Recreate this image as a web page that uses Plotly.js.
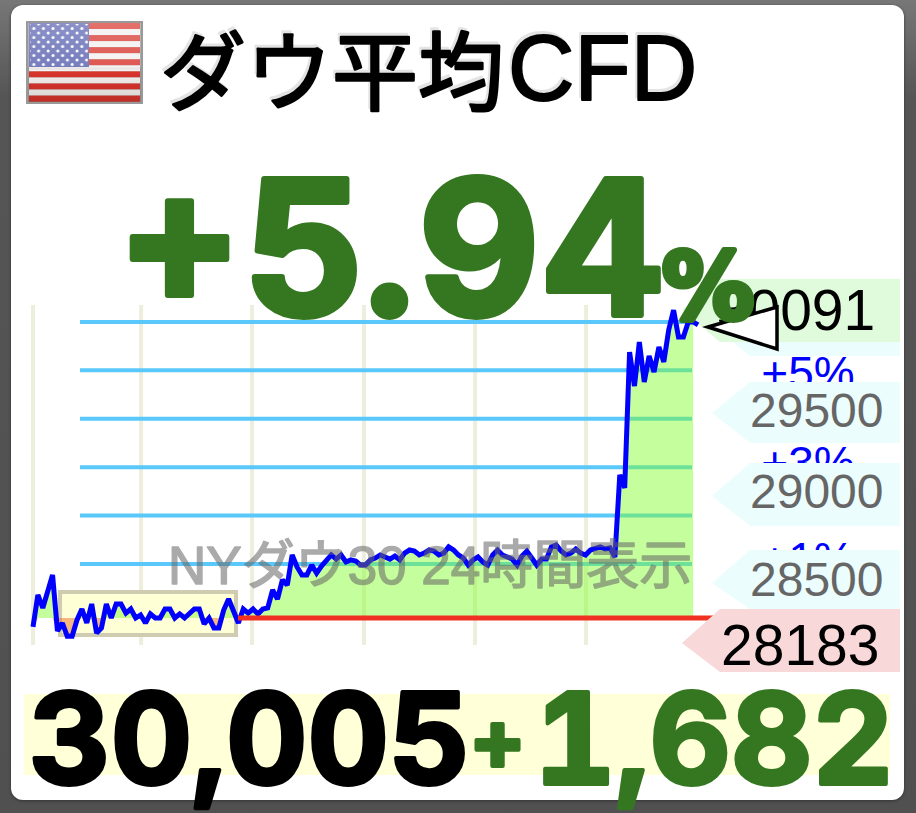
<!DOCTYPE html>
<html><head><meta charset="utf-8">
<script src="https://cdn.plot.ly/plotly-3.0.1.min.js"></script>
<style>
html,body{margin:0;padding:0;width:916px;height:813px;overflow:hidden;background:#555;}
#bg{position:absolute;left:0;top:0;width:916px;height:813px;background:linear-gradient(#777,#555 12%,#505050);}
#card{position:absolute;left:11px;top:5px;width:893px;height:795px;background:#fff;border-radius:12px;box-shadow:0 1px 3px #333;}
#flag{position:absolute;left:26px;top:21px;}
#chart{position:absolute;left:0;top:0;}
</style></head><body>
<div id="bg"></div><div id="card"></div>
<svg id="flag" width="117" height="83" viewBox="0 0 117 83">
<defs>
<linearGradient id="gl" x1="0" y1="0" x2="0" y2="1"><stop offset="0" stop-color="#fff" stop-opacity=".3"/><stop offset=".55" stop-color="#fff" stop-opacity=".18"/><stop offset=".6" stop-color="#000" stop-opacity="0"/><stop offset="1" stop-color="#000" stop-opacity=".12"/></linearGradient>
<pattern id="st" width="9.6" height="9" patternUnits="userSpaceOnUse"><circle cx="3" cy="3" r="1.5" fill="#fff"/><circle cx="7.8" cy="7.5" r="1.5" fill="#fff"/></pattern>
</defs>
<rect width="117" height="83" fill="#999"/>
<g id="stripes"></g>
<rect x="3" y="2" width="60" height="44" fill="#5a62b0"/>
<rect x="4" y="3" width="58" height="42" fill="url(#st)"/>
<rect x="2" y="2" width="113" height="79" fill="url(#gl)"/>
</svg>
<div id="chart"></div>
<script>
var values = [28238,28425,28349,28442,28542,28214,28261,28183,28183,28279,28343,28261,28372,28202,28232,28372,28290,28372,28372,28319,28343,28290,28308,28261,28314,28290,28290,28343,28343,28290,28314,28290,28319,28343,28343,28255,28290,28232,28232,28337,28401,28325,28261,28343,28319,28343,28314,28343,28349,28454,28401,28513,28483,28659,28589,28542,28542,28600,28553,28594,28630,28659,28635,28659,28618,28630,28624,28600,28600,28630,28641,28659,28647,28635,28653,28630,28670,28688,28682,28659,28670,28688,28682,28659,28670,28706,28688,28659,28641,28600,28630,28647,28618,28600,28659,28688,28659,28647,28635,28600,28653,28682,28635,28600,28635,28635,28706,28717,28682,28659,28670,28694,28670,28659,28688,28700,28706,28694,28700,28647,29127,29051,29846,29647,29905,29671,29823,29729,29876,29788,29975,30091,29934,29934,30022,30022,30005];
var prevClose = 28323;
var baseline = 28290;
var gridPct = [1,2,3,4,5,6];
var pctLabels = ["+1%","+3%","+5%"];
var pctLabelLevels = [1,3,5];
var timeTicks = [0,22.1,44.8,67.7,90.4,113.1];
var priceLabels = [29500,29000,28500];
var lowPrice = 28183, highPrice = 30091;

var W=916,H=813,UNITS_PER_PX=5.85;
function px(x){return x/W;} function py(y){return 1-y/H;}
function idx(x){return (x-33)/4.89;}
function poly(pts){return 'M'+pts.map(function(p){return px(p[0])+','+py(p[1]);}).join('L')+'Z';}
function level(p){return prevClose*(1+p/100);}

(function(){var g=document.getElementById('stripes'),s='';
 for(var i=0;i<13;i++){s+='<rect x="3" y="'+(2+i*6.05)+'" width="111" height="6.1" fill="'+(i%2?'#f3f0ee':'#d8342c')+'"/>';}
 g.innerHTML=s;})();

var xs=values.map(function(v,i){return i;});
var fillN=136;
var xf=xs.slice(0,fillN);
var baseY=xf.map(function(){return baseline;});
var upY=xf.map(function(i){return Math.max(values[i],baseline);});
var dnY=xf.map(function(i){return Math.min(values[i],baseline);});

var traces=[
 {x:xf,y:baseY,mode:'lines',line:{width:0},hoverinfo:'skip'},
 {x:xf,y:upY,mode:'lines',line:{width:0},fill:'tonexty',fillcolor:'rgba(131,253,43,0.467)',hoverinfo:'skip'},
 {x:xf,y:baseY,mode:'lines',line:{width:0},hoverinfo:'skip'},
 {x:xf,y:dnY,mode:'lines',line:{width:0},fill:'tonexty',fillcolor:'rgba(240,110,40,0.5)',hoverinfo:'skip'},
 {x:pctLabelLevels.map(function(){return idx(808);}),y:pctLabelLevels.map(function(p){return level(p)-(p===5?7*UNITS_PER_PX:0);}),mode:'text',text:pctLabels,textposition:'middle center',cliponaxis:false,
  textfont:{family:'Liberation Sans',size:46,color:'#0000ff'},hoverinfo:'skip'},
 {x:[idx(796)],y:[highPrice-6*UNITS_PER_PX],mode:'text',text:[String(highPrice)],textposition:'middle center',cliponaxis:false,
  textfont:{family:'Liberation Sans',size:57,color:'#000'},hoverinfo:'skip'},
 {x:xs,y:values,mode:'lines',line:{color:'#0000ff',width:5,shape:'linear'},hoverinfo:'skip'}
];

var shapes=[];
timeTicks.forEach(function(t){shapes.push({type:'line',layer:'below',xref:'x',yref:'paper',x0:t,x1:t,y0:py(305),y1:py(645),line:{color:'#eeeedd',width:4}});});
shapes.push({type:'path',layer:'below',xref:'paper',yref:'paper',path:poly([[60,592],[236,592],[236,635],[60,635]]),fillcolor:'#ffffd6',line:{color:'#cfccb2',width:4}});
gridPct.forEach(function(p){shapes.push({type:'line',layer:'below',xref:'paper',yref:'y',x0:px(80),x1:px(692),y0:level(p),y1:level(p),line:{color:'#5ac8fa',width:4}});});
shapes.push({type:'path',layer:'below',xref:'paper',yref:'paper',path:poly([[900,298],[750,294],[712,325],[750,356],[900,356]]),fillcolor:'#ecfdfd',line:{width:0}});
shapes.push({type:'path',layer:'below',xref:'paper',yref:'paper',path:poly([[900,279],[720,279],[682,310],[720,342],[900,342]]),fillcolor:'#e0fbdc',line:{width:0}});
shapes.push({type:'line',layer:'above',xref:'x',yref:'y',x0:idx(238),x1:idx(720),y0:baseline,y1:baseline,line:{color:'#f03020',width:5}});
[[382,443,413],[463,526,496],[550,609,583]].forEach(function(b){
 shapes.push({type:'path',layer:'above',xref:'paper',yref:'paper',path:poly([[900,b[0]],[750,b[0]],[712,b[2]],[750,b[1]],[900,b[1]]]),fillcolor:'#ecfdfd',line:{width:0}});});
shapes.push({type:'path',layer:'above',xref:'paper',yref:'paper',path:poly([[900,609],[720,609],[682,643],[720,672],[900,672]]),fillcolor:'#f8d8d8',line:{width:0}});
shapes.push({type:'path',layer:'above',xref:'paper',yref:'paper',path:poly([[708,327],[777,307],[777,349]]),fillcolor:'#ffffff',line:{color:'#000',width:3.5}});
shapes.push({type:'path',layer:'above',xref:'paper',yref:'paper',path:poly([[24,694],[890,694],[890,775],[24,775]]),fillcolor:'#ffffd8',line:{width:0}});

function txt(t,x,y,size,color,o){o=o||{};return {xref:'paper',yref:'paper',x:px(x),y:py(y),text:t,showarrow:false,xanchor:o.xa||'left',yanchor:'middle',
 font:{family:o.f||'Inter',size:size,color:color,weight:o.w||700}};}
var green='#347720';
var ann=[
 txt('ダウ平均',158,66,86,'#000',{f:'Noto Sans CJK JP',w:400}),
 txt('CFD',506,68,92,'#000',{f:'Liberation Sans',w:400}),
 txt('NYダウ30 24時間表示',430,565,53,'#666',{f:'Liberation Sans, Noto Sans CJK JP',w:400,xa:'center'}),
 txt('+5.94',114,247,187,green),
 txt('%',660,287,92,green,{f:'DejaVu Sans'}),
 txt('30,005',22,738,126,'#000'),
 txt('+',467,738,84,green),
 txt('1,682',544,738,126,green)
];
priceLabels.forEach(function(v,i){ann.push({xref:'x',yref:'y',x:idx(816),y:v,yshift:[1,4.7,3][i],text:String(v),showarrow:false,xanchor:'center',yanchor:'middle',font:{family:'Liberation Sans',size:48,color:'#666'}});});
ann.push({xref:'x',yref:'y',x:idx(800),y:lowPrice,yshift:-9,text:String(lowPrice),showarrow:false,xanchor:'center',yanchor:'middle',font:{family:'Liberation Sans',size:57,color:'#000'}});

var layout={width:W,height:H,margin:{l:0,r:0,t:0,b:0},paper_bgcolor:'rgba(0,0,0,0)',plot_bgcolor:'rgba(0,0,0,0)',showlegend:false,
 xaxis:{range:[idx(0),idx(916)],visible:false,fixedrange:true},
 yaxis:{range:[27149.5,31905.5],visible:false,fixedrange:true},
 shapes:shapes,annotations:ann};
function stroke(el,c,w){el.style.stroke=c;el.style.strokeWidth=w+'px';el.style.strokeLinejoin='round';}
Plotly.newPlot('chart',traces,layout,{displayModeBar:false,staticPlot:true}).then(function(){
 document.querySelectorAll('.annotation-text').forEach(function(el){
  var t=el.textContent;
  if(t==='+5.94'||t==='%')stroke(el,green,6);
  if(t==='30,005'){stroke(el,'#000',4);el.style.fontFeatureSettings='"tnum"';}
  if(t==='1,682'){stroke(el,green,4);el.style.fontFeatureSettings='"tnum"';}
  if(t==='+')stroke(el,green,4);
  if(t==='CFD'){stroke(el,'#000',2);el.style.filter='drop-shadow(-2px -3px 0 #e4e4e4)';}
  if(t==='ダウ平均'){stroke(el,'#000',2.5);el.style.filter='drop-shadow(-2px -3px 0 #e4e4e4)';}
  if(t.indexOf('NY')===0){stroke(el,'#666',1.5);el.style.opacity='0.55';}
 });
});
</script>
</body></html>
